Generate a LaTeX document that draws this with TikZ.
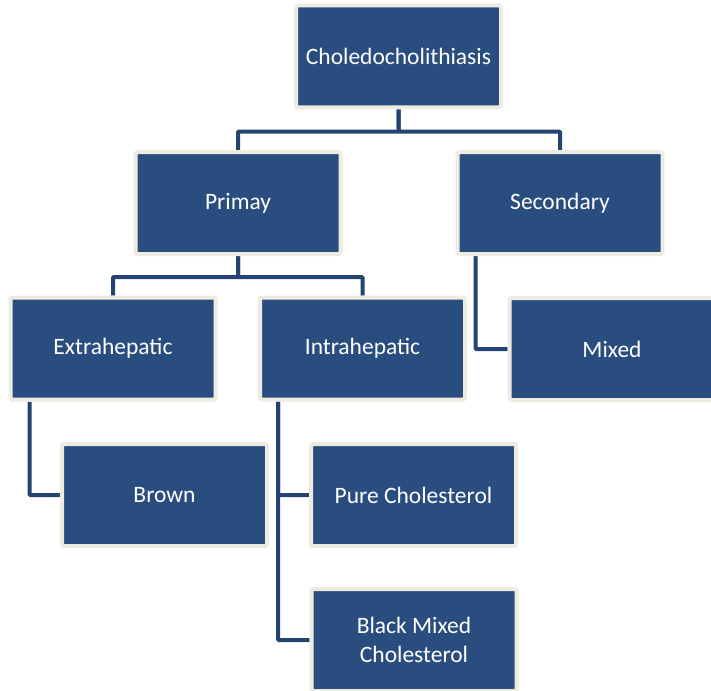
\documentclass[tikz,border=0pt]{standalone}
\usepackage{fontspec}
\setmainfont{Carlito}
\usetikzlibrary{backgrounds}
\definecolor{boxblue}{RGB}{42,77,128}
\definecolor{boxrim}{RGB}{238,236,225}
\definecolor{linkblue}{RGB}{37,67,112}
\tikzset{
  box/.style={draw=boxrim, fill=boxblue, line width=4pt, rounded corners=1.5pt, text=white, align=center, minimum width=205pt, minimum height=102pt, inner sep=0pt, font=\fontsize{23.5}{28.5}\selectfont},
  link/.style={draw=linkblue, line width=4pt, rounded corners=1pt}
}
\begin{document}
\begin{tikzpicture}[x=1pt, y=-1pt]
\useasboundingbox (0,0) rectangle (711,690);
\node[box] (root) at (398.5,56.5) {Choledocholithiasis};
\node[box] (primary) at (238,203) {Primay};
\node[box] (secondary) at (560,203) {Secondary};
\node[box] (extra) at (113,348.5) {Extrahepatic};
\node[box] (intra) at (362.5,348.5) {Intrahepatic};
\node[box] (mixed) at (612,349) {Mixed};
\node[box] (brown) at (164.5,495) {Brown};
\node[box] (pure) at (413.5,495) {Pure Cholesterol};
\node[box] (black) at (414,640) {Black Mixed\\Cholesterol};
\begin{scope}[on background layer]
\draw[link] (root.south) -- ++(0,22) -| (primary.north);
\draw[link] (root.south) -- ++(0,22) -| (secondary.north);
\draw[link] (primary.south) -- ++(0,21) -| (extra.north);
\draw[link] (primary.south) -- ++(0,21) -| (intra.north);
\draw[link] ([xshift=20pt]secondary.south west) |- (mixed.west);
\draw[link] ([xshift=21pt]extra.south west) |- (brown.west);
\draw[link] ([xshift=20pt]intra.south west) |- (pure.west);
\draw[link] ([xshift=20pt]intra.south west) |- (black.west);
\end{scope}
\end{tikzpicture}
\end{document}
